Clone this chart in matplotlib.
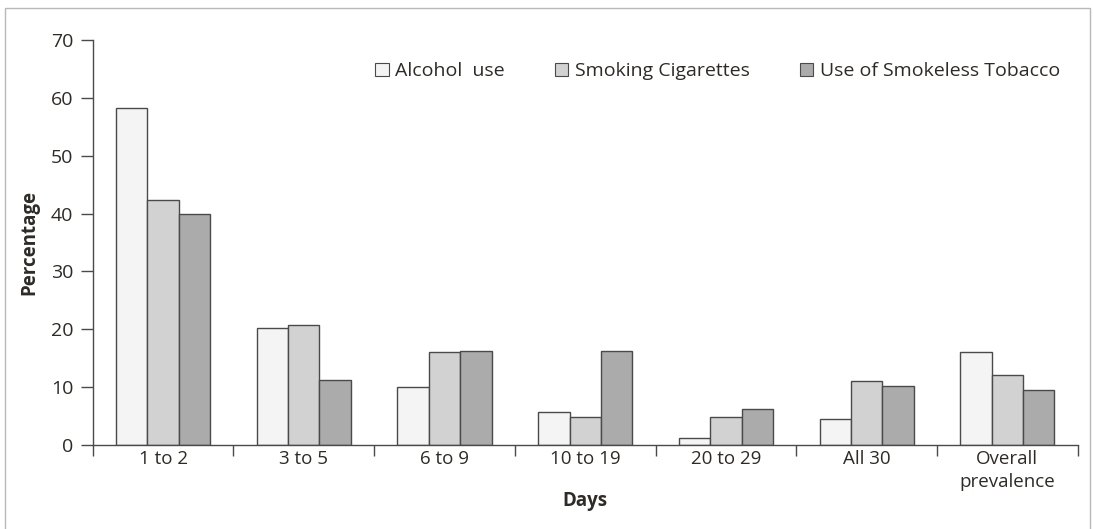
#!/usr/bin/env python3
# -*- coding: utf-8 -*-

"""Days of use bar chart: alcohol, cigarettes, smokeless tobacco."""

import numpy as np
import matplotlib
matplotlib.use("Agg")
import matplotlib.pyplot as plt
from matplotlib.patches import Patch, Rectangle

CATEGORIES = ["1 to 2", "3 to 5", "6 to 9", "10 to 19", "20 to 29",
              "All 30", "Overall\nprevalence"]
ALCOHOL = [58.3, 20.2, 10.0, 5.7, 1.2, 4.5, 16.1]
CIGARETTES = [42.3, 20.8, 16.0, 4.8, 4.9, 11.0, 12.1]
SMOKELESS = [40.0, 11.2, 16.3, 16.3, 6.2, 10.1, 9.5]
SERIES = ["Alcohol  use", "Smoking Cigarettes", "Use of Smokeless Tobacco"]
COLORS = ["#f4f4f4", "#d2d2d2", "#ababab"]
EDGE = "#4a4a4a"
TEXT = "#2e2a26"


def main():
    """Launcher."""
    plt.rcParams["font.family"] = ["Open Sans", "DejaVu Sans"]
    fig = plt.figure(figsize=(10.93, 5.29), dpi=100)
    ax = fig.add_axes([0.0848, 0.159, 0.9012, 0.765])

    x = np.arange(len(CATEGORIES))
    width = 0.223
    for i, (vals, col) in enumerate(zip([ALCOHOL, CIGARETTES, SMOKELESS],
                                        COLORS)):
        ax.bar(x + (i - 1) * width, vals, width, color=col, edgecolor=EDGE,
               linewidth=1.0, label=SERIES[i])

    ax.set_xlim(-0.5, len(CATEGORIES) - 0.5)
    ax.set_ylim(0, 70)
    ax.set_yticks(range(0, 71, 10))
    ax.set_xticks(x)
    ax.set_xticklabels(CATEGORIES, fontsize=13.5, color=TEXT,
                       linespacing=1.35)
    ax.set_xticks(np.arange(len(CATEGORIES) + 1) - 0.5, minor=True)
    ax.tick_params(axis="x", which="major", length=0, pad=4)
    ax.tick_params(axis="x", which="minor", length=8, width=1.0,
                   color=EDGE, direction="out")
    ax.tick_params(axis="y", length=9, width=1.0, color=EDGE,
                   labelsize=14, labelcolor=TEXT, pad=5)
    for side in ["top", "right"]:
        ax.spines[side].set_visible(False)
    for side in ["left", "bottom"]:
        ax.spines[side].set_color(EDGE)
        ax.spines[side].set_linewidth(1.0)

    ax.set_ylabel("Percentage", fontsize=13.5, fontweight="bold", color=TEXT,
                  labelpad=8)
    ax.set_xlabel("Days", fontsize=13.5, fontweight="bold", color=TEXT,
                  labelpad=0)

    handles = [Patch(facecolor=c, edgecolor=EDGE, linewidth=0.8)
               for c in COLORS]
    ax.legend(handles, SERIES, loc="center right", ncol=3, frameon=False,
              bbox_to_anchor=(1.0, 0.923), fontsize=14,
              handlelength=0.7, handleheight=0.7, handletextpad=0.35,
              columnspacing=2.55, labelcolor=TEXT)

    fig.patches.append(Rectangle((0.005, -0.05), 0.992, 1.034,
                                 transform=fig.transFigure, fill=False,
                                 edgecolor="#b8b8b8", linewidth=1.0))
    fig.savefig("out.png", dpi=100)


if __name__ == "__main__":
    main()
